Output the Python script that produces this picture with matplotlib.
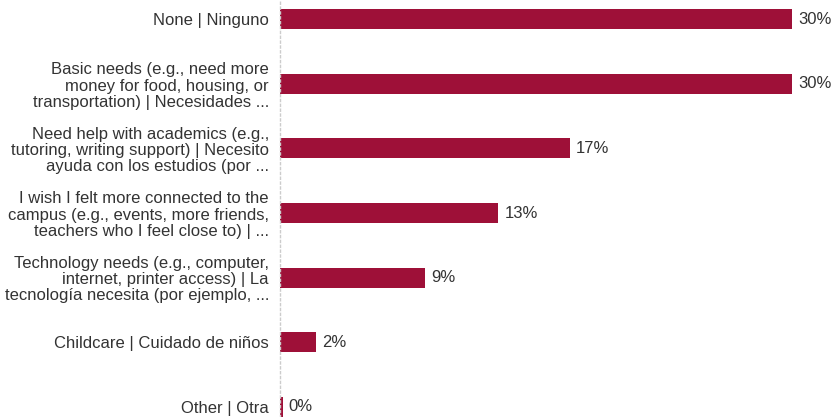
import matplotlib
matplotlib.use("Agg")
from matplotlib import pyplot as plt

labels = [
    "None | Ninguno",
    "Basic needs (e.g., need more\nmoney for food, housing, or\ntransportation) | Necesidades ...",
    "Need help with academics (e.g.,\ntutoring, writing support) | Necesito\nayuda con los estudios (por ...",
    "I wish I felt more connected to the\ncampus (e.g., events, more friends,\nteachers who I feel close to) | ...",
    "Technology needs (e.g., computer,\ninternet, printer access) | La\ntecnología necesita (por ejemplo, ...",
    "Childcare | Cuidado de niños",
    "Other | Otra",
]
values = [30.0, 30.0, 17.0, 12.8, 8.5, 2.1, 0.15]
value_labels = ["30%", "30%", "17%", "13%", "9%", "2%", "0%"]

bar_color = "#9E1038"
text_color = "#333333"

plt.rcParams['font.family'] = ['Liberation Sans', 'DejaVu Sans']

fig = plt.figure(figsize=(8.32, 4.17), dpi=100)
ax = fig.add_axes([280 / 832, 0, 1 - 280 / 832, 1])

pos = list(range(len(labels)))
ax.barh(pos, values, height=0.31, color=bar_color)

for p, v, t in zip(pos, values, value_labels):
    ax.text(v + 0.35, p, t, va="center", ha="left", fontsize=12, color=text_color)

ax.set_xlim(0, 32.35)
ax.set_ylim(6.16, -0.3)

ax.set_yticks(pos)
ax.set_yticklabels(labels, fontsize=12, color=text_color, linespacing=1.1)
ax.tick_params(axis="y", length=0, pad=8)
ax.set_xticks([])

for s in ["top", "right", "bottom"]:
    ax.spines[s].set_visible(False)
ax.spines["left"].set_color("#cccccc")
ax.spines["left"].set_linestyle((0, (1.5, 2)))
ax.spines["left"].set_linewidth(1)

fig.savefig("out.png", dpi=100)
